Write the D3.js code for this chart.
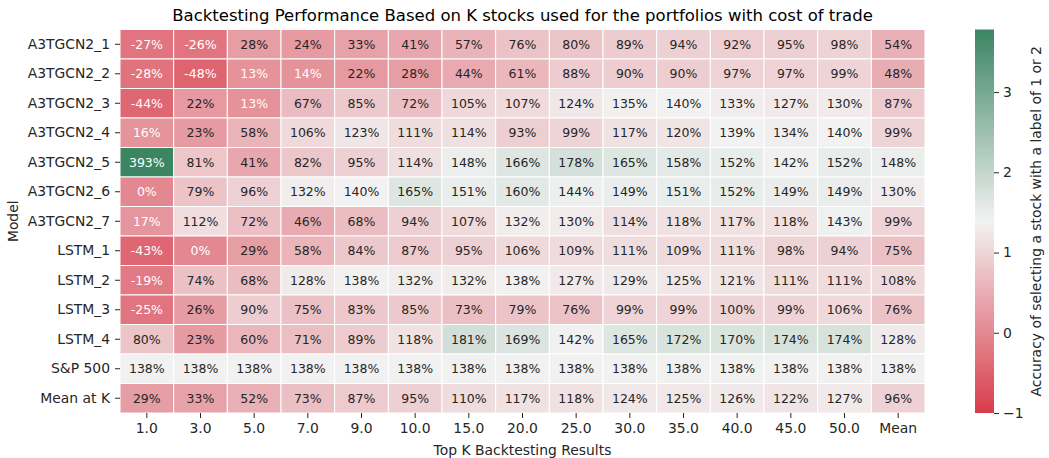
<!DOCTYPE html>
<html>
<head>
<meta charset="utf-8">
<script src="https://cdnjs.cloudflare.com/ajax/libs/d3/7.8.5/d3.min.js"></script>
<style>
  body { margin: 0; background: #fff; }
  text { font-family: "DejaVu Sans", sans-serif; }
</style>
</head>
<body>
<svg id="chart" width="1049" height="458"></svg>
<script>
// column labels (top K) and row labels (models)
const topK = ['1.0', '3.0', '5.0', '7.0', '9.0', '10.0', '15.0', '20.0', '25.0', '30.0', '35.0', '40.0', '45.0', '50.0', 'Mean'];
const models = ['A3TGCN2_1', 'A3TGCN2_2', 'A3TGCN2_3', 'A3TGCN2_4', 'A3TGCN2_5', 'A3TGCN2_6', 'A3TGCN2_7',
  'LSTM_1', 'LSTM_2', 'LSTM_3', 'LSTM_4', 'S&P 500', 'Mean at K'];

// returns in percent, one array per model
const a3tgcn2_1 = [-27, -26, 28, 24, 33, 41, 57, 76, 80, 89, 94, 92, 95, 98, 54];
const a3tgcn2_2 = [-28, -48, 13, 14, 22, 28, 44, 61, 88, 90, 90, 97, 97, 99, 48];
const a3tgcn2_3 = [-44, 22, 13, 67, 85, 72, 105, 107, 124, 135, 140, 133, 127, 130, 87];
const a3tgcn2_4 = [16, 23, 58, 106, 123, 111, 114, 93, 99, 117, 120, 139, 134, 140, 99];
const a3tgcn2_5 = [393, 81, 41, 82, 95, 114, 148, 166, 178, 165, 158, 152, 142, 152, 148];
const a3tgcn2_6 = [0, 79, 96, 132, 140, 165, 151, 160, 144, 149, 151, 152, 149, 149, 130];
const a3tgcn2_7 = [17, 112, 72, 46, 68, 94, 107, 132, 130, 114, 118, 117, 118, 143, 99];
const lstm_1 = [-43, 0, 29, 58, 84, 87, 95, 106, 109, 111, 109, 111, 98, 94, 75];
const lstm_2 = [-19, 74, 68, 128, 138, 132, 132, 138, 127, 129, 125, 121, 111, 111, 108];
const lstm_3 = [-25, 26, 90, 75, 83, 85, 73, 79, 76, 99, 99, 100, 99, 106, 76];
const lstm_4 = [80, 23, 60, 71, 89, 118, 181, 169, 142, 165, 172, 170, 174, 174, 128];
const sp500 = [138, 138, 138, 138, 138, 138, 138, 138, 138, 138, 138, 138, 138, 138, 138];
const meanAtK = [29, 33, 52, 73, 87, 95, 110, 117, 118, 124, 125, 126, 122, 127, 96];

const rows = [a3tgcn2_1, a3tgcn2_2, a3tgcn2_3, a3tgcn2_4, a3tgcn2_5, a3tgcn2_6, a3tgcn2_7,
  lstm_1, lstm_2, lstm_3, lstm_4, sp500, meanAtK];

const cbTicks = [-1, 0, 1, 2, 3];
const vmin = -1, vmax = 3.78;

const cells = [];
rows.forEach((r, i) => r.forEach((v, j) => cells.push({ model: models[i], k: topK[j], v: v / 100 })));

const svg = d3.select('#chart');
const mLeft = 120, mRight = 925, mTop = 29.5, mBottom = 413;

const x = d3.scaleBand().domain(topK).range([mLeft, mRight]);
const y = d3.scaleBand().domain(models).range([mTop, mBottom]);

// red -> light -> green, like seaborn's diverging palette
const color = d3.scaleLinear()
  .domain([vmin, (vmin + vmax) / 2, vmax])
  .range(['#d93c4b', '#f2f2f2', '#3b8563'])
  .interpolate(d3.interpolateRgb)
  .clamp(true);

function textColor(c) {
  const rgb = d3.rgb(c);
  const lin = ch => { ch /= 255; return ch <= 0.03928 ? ch / 12.92 : Math.pow((ch + 0.055) / 1.055, 2.4); };
  const lum = 0.2126 * lin(rgb.r) + 0.7152 * lin(rgb.g) + 0.0722 * lin(rgb.b);
  return lum > 0.408 ? '#262626' : '#ffffff';
}

svg.append('g')
  .selectAll('rect')
  .data(cells)
  .enter()
  .append('rect')
  .attr('x', d => x(d.k))
  .attr('y', d => y(d.model))
  .attr('width', x.bandwidth())
  .attr('height', y.bandwidth())
  .attr('fill', d => color(d.v))
  .attr('stroke', '#fff')
  .attr('stroke-width', 1);

svg.append('g')
  .selectAll('text')
  .data(cells)
  .enter()
  .append('text')
  .attr('x', d => x(d.k) + x.bandwidth() / 2)
  .attr('y', d => y(d.model) + y.bandwidth() / 2)
  .attr('dy', '0.36em')
  .attr('text-anchor', 'middle')
  .attr('font-size', '12.5px')
  .attr('fill', d => textColor(color(d.v)))
  .text(d => Math.round(d.v * 100) + '%');

// axes
const xAxis = svg.append('g')
  .attr('transform', `translate(0,${mBottom})`)
  .call(d3.axisBottom(x).tickSize(5).tickPadding(5));
const yAxis = svg.append('g')
  .attr('transform', `translate(${mLeft},0)`)
  .call(d3.axisLeft(y).tickSize(5).tickPadding(5));
[xAxis, yAxis].forEach(a => {
  a.select('.domain').remove();
  a.selectAll('.tick line').attr('stroke', '#262626').attr('stroke-width', 1);
  a.selectAll('.tick text').attr('font-size', '13.9px').attr('fill', '#262626')
    .style('font-family', '"DejaVu Sans", sans-serif');
});

svg.append('text')
  .attr('x', (mLeft + mRight) / 2)
  .attr('y', 21)
  .attr('text-anchor', 'middle')
  .attr('font-size', '16.5px')
  .attr('fill', '#000')
  .text('Backtesting Performance Based on K stocks used for the portfolios with cost of trade');

svg.append('text')
  .attr('x', (mLeft + mRight) / 2)
  .attr('y', 455)
  .attr('text-anchor', 'middle')
  .attr('font-size', '13.9px')
  .attr('fill', '#262626')
  .text('Top K Backtesting Results');

svg.append('text')
  .attr('transform', `translate(18,${(mTop + mBottom) / 2}) rotate(-90)`)
  .attr('text-anchor', 'middle')
  .attr('font-size', '13.9px')
  .attr('fill', '#262626')
  .text('Model');

// colorbar
const cbX = 975, cbW = 19;
const cbScale = d3.scaleLinear().domain([vmin, vmax]).range([mBottom, mTop]);
const grad = svg.append('defs').append('linearGradient')
  .attr('id', 'cbgrad')
  .attr('x1', 0).attr('y1', 1).attr('x2', 0).attr('y2', 0);
d3.range(0, 1.0001, 0.05).forEach(t => {
  grad.append('stop')
    .attr('offset', t)
    .attr('stop-color', color(vmin + t * (vmax - vmin)));
});
svg.append('rect')
  .attr('x', cbX).attr('y', mTop)
  .attr('width', cbW).attr('height', mBottom - mTop)
  .attr('fill', 'url(#cbgrad)');

const cbAxis = svg.append('g')
  .attr('transform', `translate(${cbX + cbW},0)`)
  .call(d3.axisRight(cbScale).tickValues(cbTicks).tickSize(5).tickPadding(4)
    .tickFormat(d => d < 0 ? '\u2212' + Math.abs(d) : d));
cbAxis.select('.domain').remove();
cbAxis.selectAll('.tick line').attr('stroke', '#262626');
cbAxis.selectAll('.tick text').attr('font-size', '13.9px').attr('fill', '#262626')
  .style('font-family', '"DejaVu Sans", sans-serif');

svg.append('text')
  .attr('transform', `translate(1041,${(mTop + mBottom) / 2}) rotate(-90)`)
  .attr('text-anchor', 'middle')
  .attr('font-size', '13.9px')
  .attr('fill', '#262626')
  .text('Accuracy of selecting a stock with a label of 1 or 2');
</script>
</body>
</html>
